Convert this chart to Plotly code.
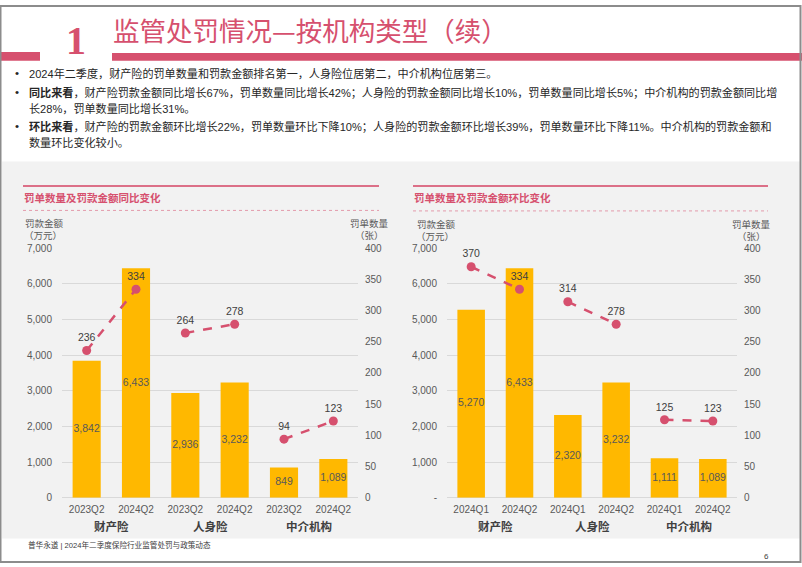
import plotly.graph_objects as go

W, H = 802, 567

# ---------------- data ----------------
groups = ["财产险", "人身险", "中介机构"]
yoy_quarters = ["2023Q2", "2024Q2"]
qoq_quarters = ["2024Q1", "2024Q2"]

yoy_amount = [3842, 6433, 2936, 3232, 849, 1089]   # 罚款金额（万元）
yoy_count = [236, 334, 264, 278, 94, 123]          # 罚单数量（张）
qoq_amount = [5270, 6433, 2320, 3232, 1111, 1089]
qoq_count = [370, 334, 314, 278, 125, 123]

amount_ticks = [0, 1000, 2000, 3000, 4000, 5000, 6000, 7000]
amount_text_yoy = ["0", "1,000", "2,000", "3,000", "4,000", "5,000", "6,000", "7,000"]
amount_text_qoq = ["-", "1,000", "2,000", "3,000", "4,000", "5,000", "6,000", "7,000"]
count_ticks = [0, 50, 100, 150, 200, 250, 300, 350, 400]

# ---------------- styles ----------------
PINK = "#d6506e"
BAR = "#FFB800"
GRAY_TXT = "#595959"
DARK_TXT = "#404040"
FONT = "Liberation Sans, Noto Sans CJK SC, sans-serif"

# vertical calibration of the photographed page
VA, VB = 0.9835, 3.98


def px(x):
    return x / W


def py(y):
    ys = (y - VB) / VA
    ys = min(max(ys, 0.0), H)
    return 1 - ys / H


fig = go.Figure()

charts = [
    dict(amount=yoy_amount, count=yoy_count, quarters=yoy_quarters, ax="x", ay="y", ay2="y2",
         amount_text=amount_text_yoy),
    dict(amount=qoq_amount, count=qoq_count, quarters=qoq_quarters, ax="x2", ay="y3", ay2="y4",
         amount_text=amount_text_qoq),
]

for ch in charts:
    n = len(ch["amount"])
    idx = list(range(n))
    fig.add_trace(go.Bar(
        x=idx, y=ch["amount"], width=0.57, marker=dict(color=BAR, line=dict(width=0)),
        xaxis=ch["ax"], yaxis=ch["ay"], hoverinfo="skip", showlegend=False))
    # labels in the middle of the bars
    fig.add_trace(go.Scatter(
        x=idx, y=[v / 2 for v in ch["amount"]], mode="text",
        text=[f"{v:,}" for v in ch["amount"]],
        textfont=dict(size=10.5, color=GRAY_TXT, family=FONT),
        xaxis=ch["ax"], yaxis=ch["ay"], hoverinfo="skip", showlegend=False))
    # dashed count lines, one segment per group
    xs, ys, ts = [], [], []
    for g in range(len(groups)):
        for k in range(2):
            i = 2 * g + k
            xs.append(i)
            ys.append(ch["count"][i])
            ts.append(str(ch["count"][i]))
        xs.append(None)
        ys.append(None)
        ts.append("")
    fig.add_trace(go.Scatter(
        x=xs, y=ys, mode="lines+markers+text", text=ts, textposition="top center",
        textfont=dict(size=10.5, color=DARK_TXT, family=FONT),
        line=dict(color=PINK, width=2.5, dash="dash"),
        marker=dict(color=PINK, size=9),
        connectgaps=False, cliponaxis=False,
        xaxis=ch["ax"], yaxis=ch["ay2"], hoverinfo="skip", showlegend=False))

ydom = [py(497.3), py(246.7)]
xdoms = [[px(62), px(358)], [px(447), px(737)]]

tickfont = dict(size=10, color=GRAY_TXT, family=FONT)
layout_axes = {}
for k, ch in enumerate(charts):
    n = len(ch["amount"])
    xname = "xaxis" if k == 0 else "xaxis2"
    yname = "yaxis" if k == 0 else "yaxis3"
    y2name = "yaxis2" if k == 0 else "yaxis4"
    layout_axes[xname] = dict(
        domain=xdoms[k], range=[-0.5, n - 0.5], tickvals=list(range(n)),
        ticktext=ch["quarters"] * len(groups), showgrid=False, zeroline=False,
        showline=False, ticks="", ticklabelstandoff=4, tickfont=tickfont,
        anchor=ch["ay"], fixedrange=True)
    layout_axes[yname] = dict(
        domain=ydom, range=[0, 7000], tickvals=amount_ticks, ticktext=ch["amount_text"],
        showgrid=True, gridcolor="#d9d9d9", gridwidth=1, zeroline=True,
        zerolinecolor="#d9d9d9", zerolinewidth=1, showline=False, ticks="",
        ticklabelstandoff=9, tickfont=tickfont, anchor=ch["ax"], fixedrange=True)
    layout_axes[y2name] = dict(
        overlaying=ch["ay"], side="right", anchor=ch["ax"], range=[0, 400],
        tickvals=count_ticks, showgrid=False, zeroline=False, showline=False,
        ticks="", ticklabelstandoff=6, tickfont=tickfont, fixedrange=True)

# ---------------- shapes ----------------
shapes = []


def rect(x0, y0, x1, y1, fill, layer="below", line=None):
    shapes.append(dict(type="rect", xref="paper", yref="paper",
                       x0=px(x0), x1=px(x1), y0=py(y1), y1=py(y0),
                       fillcolor=fill, line=line or dict(width=0), layer=layer))


def hline(x0, x1, y, color, width, dash="solid"):
    shapes.append(dict(type="line", xref="paper", yref="paper",
                       x0=px(x0), x1=px(x1), y0=py(y), y1=py(y),
                       line=dict(color=color, width=width, dash=dash), layer="below"))


rect(2, 160, 800, 538, "#f2f2f2")
rect(0, 50, 40, 59, PINK)
rect(112, 51, 802, 59, PINK)
hline(23, 379, 184.5, "#dc7088", 2)
hline(413, 768, 184.5, "#dc7088", 2)
hline(23, 379, 209, "#e39aab", 1, "dot")
hline(413, 768, 209.5, "#e39aab", 1, "dot")
shapes.append(dict(type="rect", xref="paper", yref="paper", x0=px(0.5), x1=px(800.5),
                   y0=py(565.5), y1=py(0.5), line=dict(color="#8c8c8c", width=2),
                   fillcolor="rgba(0,0,0,0)", layer="above"))

# ---------------- annotations ----------------
anns = []


def ann(text, x, y, size, color=DARK_TXT, xanchor="left", yanchor="middle", family=FONT):
    anns.append(dict(text=text, x=px(x), y=py(y), xref="paper", yref="paper",
                     xanchor=xanchor, yanchor=yanchor, showarrow=False,
                     font=dict(size=size, color=color, family=family)))


ann("<b>1</b>", 76, 39, 40, PINK, xanchor="center", family="Liberation Serif, serif")
ann("监管处罚情况—按机构类型（续）", 111, 28, 26.5, PINK, family="Noto Sans CJK SC, sans-serif")

bullets = [
    (71.5, True, "2024年二季度，财产险的罚单数量和罚款金额排名第一，人身险位居第二，中介机构位居第三。"),
    (90.5, True, "<b>同比来看</b>，财产险罚款金额同比增长67%，罚单数量同比增长42%；人身险的罚款金额同比增长10%，罚单数量同比增长5%；中介机构的罚款金额同比增"),
    (106.5, False, "长28%，罚单数量同比增长31%。"),
    (124.5, True, "<b>环比来看</b>，财产险的罚款金额环比增长22%，罚单数量环比下降10%；人身险的罚款金额环比增长39%，罚单数量环比下降11%。中介机构的罚款金额和"),
    (140.5, False, "数量环比变化较小。"),
]
for y, dot, t in bullets:
    if dot:
        ann("•", 17, y, 11.5, "#262626", xanchor="center")
    ann(t, 27, y, 11.1, "#262626")

ann("<b>罚单数量及罚款金额同比变化</b>", 22, 197, 10.5, PINK)
ann("<b>罚单数量及罚款金额环比变化</b>", 412, 197, 10.5, PINK)

# axis titles
ann("罚款金额", 44, 222, 9.5, GRAY_TXT, xanchor="center")
ann("（万元）", 43, 234, 9.5, GRAY_TXT, xanchor="center")
ann("罚单数量", 369, 222, 9.5, GRAY_TXT, xanchor="center")
ann("（张）", 369, 234, 9.5, GRAY_TXT, xanchor="center")
ann("罚款金额", 436, 223, 9.5, GRAY_TXT, xanchor="center")
ann("（万元）", 435, 235, 9.5, GRAY_TXT, xanchor="center")
ann("罚单数量", 751, 223, 9.5, GRAY_TXT, xanchor="center")
ann("（张）", 751, 235, 9.5, GRAY_TXT, xanchor="center")

# group labels under each pair of bars
for k, ch in enumerate(charts):
    xr = "x" if k == 0 else "x2"
    for g, name in enumerate(groups):
        anns.append(dict(text="<b>" + name + "</b>", x=2 * g + 0.5, y=py(526), xref=xr, yref="paper",
                         xanchor="center", yanchor="middle", showarrow=False,
                         font=dict(size=11.5, color="#404040", family=FONT)))

ann("普华永道 | 2024年二季度保险行业监管处罚与政策动态", 26, 545, 7.6, DARK_TXT)
ann("6", 766, 556, 8, DARK_TXT, xanchor="center")

fig.update_layout(
    width=W, height=H, margin=dict(l=0, r=0, t=0, b=0),
    paper_bgcolor="white", plot_bgcolor="rgba(0,0,0,0)",
    font=dict(family=FONT, color=DARK_TXT),
    showlegend=False, shapes=shapes, annotations=anns, bargap=0.4,
    **layout_axes,
)

page_js = (
    "var de=document.documentElement, b=document.body;"
    "de.style.margin='0';de.style.padding='0';de.style.overflow='hidden';de.style.height='567px';"
    "b.style.margin='0';b.style.padding='0';b.style.overflow='hidden';b.style.height='567px';"
)

fig.write_html("out.html", config=dict(displayModeBar=False), post_script=page_js)
